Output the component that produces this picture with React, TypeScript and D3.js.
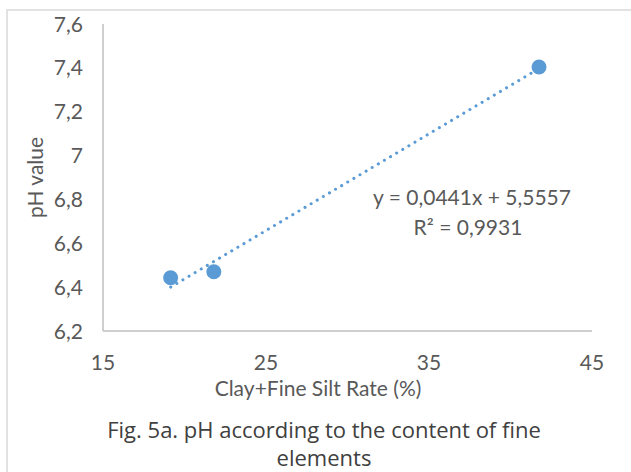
import * as d3 from "d3";

// values
const clayFineSilt = [19.15, 21.8, 41.75];
const phValues = [6.443, 6.47, 7.404];
const xTicks = [15, 25, 35, 45];
const yTicks = [6.2, 6.4, 6.6, 6.8, 7, 7.2, 7.4, 7.6];
const slope = 0.0441;
const intercept = 5.5557;
const equationLabel = "y = 0,0441x + 5,5557";
const r2Label = "R² = 0,9931";

const fmt = (v: number) => String(v).replace(".", ",");

const App = () => {
  const width = 631;
  const height = 472;
  const x = d3.scaleLinear().domain([15, 45]).range([103, 592]);
  const y = d3.scaleLinear().domain([6.2, 7.6]).range([331, 24]);

  const points = clayFineSilt.map((c, i) => ({ x: c, y: phValues[i] }));
  const xMin = d3.min(clayFineSilt) as number;
  const xMax = d3.max(clayFineSilt) as number;
  const trend = d3
    .line<number>()
    .x((d) => x(d))
    .y((d) => y(slope * d + intercept))([xMin, xMax]);

  const font = "Lato, 'Open Sans', sans-serif";
  const capFont = "'Open Sans', sans-serif";
  const fs = 21;
  const blue = "#5B9BD5";
  const tickColor = "#595959";

  return (
    <svg
      width={width}
      height={height}
      style={{ position: "absolute", left: 0, top: 0, background: "#fff" }}
    >
      <rect x={7} y={10} width={640} height={480} fill="#fff" stroke="#d9d9d9" strokeWidth={1.5} />

      {/* axes */}
      <line x1={x(15)} x2={x(15)} y1={y(7.6)} y2={y(6.2)} stroke="#bfbfbf" strokeWidth={1.5} />
      <line x1={x(15)} x2={x(45)} y1={y(6.2)} y2={y(6.2)} stroke="#bfbfbf" strokeWidth={1.5} />

      {yTicks.map((t) => (
        <text
          key={t}
          x={83}
          y={y(t)}
          dy="0.36em"
          textAnchor="end"
          fontFamily={font}
          fontSize={fs}
          fill={tickColor}
        >
          {fmt(t)}
        </text>
      ))}
      {xTicks.map((t) => (
        <text
          key={t}
          x={x(t)}
          y={370}
          textAnchor="middle"
          fontFamily={font}
          fontSize={fs}
          fill={tickColor}
        >
          {t}
        </text>
      ))}

      <text
        transform={`translate(43,${(y(7.6) + y(6.2)) / 2}) rotate(-90)`}
        textAnchor="middle"
        fontFamily={font}
        fontSize={fs}
        fill={tickColor}
      >
        pH value
      </text>
      <text x={318} y={396} textAnchor="middle" fontFamily={font} fontSize={fs} fill={tickColor}>
        Clay+Fine Silt Rate (%)
      </text>

      {/* trendline */}
      <path
        d={trend ?? ""}
        fill="none"
        stroke={blue}
        strokeWidth={3}
        strokeLinecap="round"
        strokeDasharray="0.1 7"
      />

      {points.map((p, i) => (
        <circle key={i} cx={x(p.x)} cy={y(p.y)} r={7.5} fill={blue} />
      ))}

      <text x={472} y={205} textAnchor="middle" fontFamily={font} fontSize={fs} fill={tickColor}>
        {equationLabel}
      </text>
      <text x={468} y={235} textAnchor="middle" fontFamily={font} fontSize={fs} fill={tickColor}>
        {r2Label}
      </text>

      <text x={324} y={438} textAnchor="middle" fontFamily={capFont} fontSize={22} fill="#404040">
        Fig. 5a. pH according to the content of fine
      </text>
      <text x={324} y={466} textAnchor="middle" fontFamily={capFont} fontSize={22} fill="#404040">
        elements
      </text>
    </svg>
  );
};

export default App;
